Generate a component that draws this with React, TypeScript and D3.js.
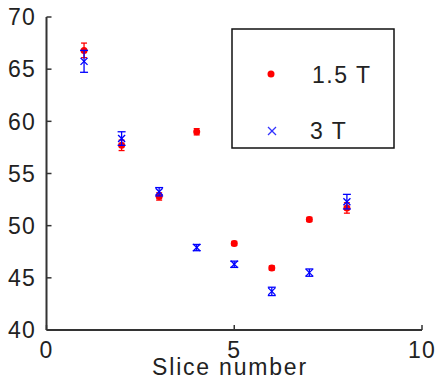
import React from 'react';
import * as d3 from 'd3';

const slices = [1, 2, 3, 4, 5, 6, 7, 8];
const t15Values = [66.8, 57.7, 52.8, 59.0, 48.3, 45.95, 50.6, 51.7];
const t15Errors = [0.7, 0.5, 0.35, 0.3, 0.2, 0.2, 0.2, 0.5];
const t3Values = [65.75, 58.35, 53.25, 47.9, 46.3, 43.7, 45.5, 52.3];
const t3Errors = [1.05, 0.65, 0.4, 0.3, 0.3, 0.4, 0.35, 0.7];
const xTicks = [0, 5, 10];
const yTicks = [40, 45, 50, 55, 60, 65, 70];
const seriesNames = ['1.5 T', '3 T'];

const W = 435;
const H = 377;
const FONT = '"Liberation Sans", Arial, sans-serif';

export default function App() {
  const x = d3.scaleLinear().domain([0, 10]).range([46.5, 422]);
  const y = d3.scaleLinear().domain([40, 70]).range([330, 17]);

  const axisColor = '#333';
  const textColor = '#222';

  const errBar = (xv: number, v: number, e: number, color: string, cap: number, key: string) => {
    const cx = x(xv);
    const y1 = y(v + e);
    const y2 = y(v - e);
    return (
      <g key={key} stroke={color} strokeWidth={1.3}>
        <line x1={cx} x2={cx} y1={y1} y2={y2} />
        <line x1={cx - cap} x2={cx + cap} y1={y1} y2={y1} />
        <line x1={cx - cap} x2={cx + cap} y1={y2} y2={y2} />
      </g>
    );
  };

  const cross = (cx: number, cy: number, r: number, color: string, key: string) => (
    <g key={key} stroke={color} strokeWidth={1.3}>
      <line x1={cx - r} x2={cx + r} y1={cy - r} y2={cy + r} />
      <line x1={cx - r} x2={cx + r} y1={cy + r} y2={cy - r} />
    </g>
  );

  return (
    <svg
      width={W}
      height={H}
      style={{ position: 'absolute', left: 0, top: 0, background: '#fff' }}
      fontFamily={FONT}
    >
      {/* y axis */}
      <line x1={x(0)} x2={x(0)} y1={y(70)} y2={y(40)} stroke={axisColor} strokeWidth={2} />
      {yTicks.map(t => (
        <g key={'yt' + t}>
          <line x1={x(0)} x2={x(0) + 5} y1={y(t)} y2={y(t)} stroke={axisColor} strokeWidth={1.5} />
          <text
            x={36}
            y={y(t)}
            dy="0.36em"
            textAnchor="end"
            fontSize={23}
            letterSpacing={1.2}
            fill={textColor}
          >
            {t}
          </text>
        </g>
      ))}
      {/* x axis */}
      <line x1={x(0)} x2={x(10)} y1={y(40)} y2={y(40)} stroke={axisColor} strokeWidth={2} />
      {xTicks.map(t => (
        <g key={'xt' + t}>
          <line x1={x(t)} x2={x(t)} y1={y(40)} y2={y(40) - 5} stroke={axisColor} strokeWidth={1.5} />
          <text x={x(t)} y={358} textAnchor="middle" fontSize={23} letterSpacing={1.2} fill={textColor}>
            {t}
          </text>
        </g>
      ))}
      <text x={230} y={375} textAnchor="middle" fontSize={23} letterSpacing={1.8} fill={textColor}>
        Slice number
      </text>

      {/* 1.5 T series */}
      {slices.map((s, i) => errBar(s, t15Values[i], t15Errors[i], '#ff0000', 3, 're' + i))}
      {slices.map((s, i) => (
        <circle key={'rp' + i} cx={x(s)} cy={y(t15Values[i])} r={3.5} fill="#ff0000" />
      ))}

      {/* 3 T series */}
      {slices.map((s, i) => errBar(s, t3Values[i], t3Errors[i], '#0000ff', 4, 'be' + i))}
      {slices.map((s, i) => cross(x(s), y(t3Values[i]), 3.5, '#0000ff', 'bp' + i))}

      {/* legend */}
      <rect x={232} y={29} width={162} height={119} fill="#fff" stroke="#111" strokeWidth={1.5} />
      <circle cx={271} cy={74} r={3.5} fill="#ff0000" />
      <text x={312} y={83} fontSize={23} letterSpacing={1.5} fill={textColor}>
        {seriesNames[0]}
      </text>
      {cross(272, 131, 4, '#3333ff', 'lg')}
      <text x={310} y={139} fontSize={23} letterSpacing={1.5} fill={textColor}>
        {seriesNames[1]}
      </text>
    </svg>
  );
}
